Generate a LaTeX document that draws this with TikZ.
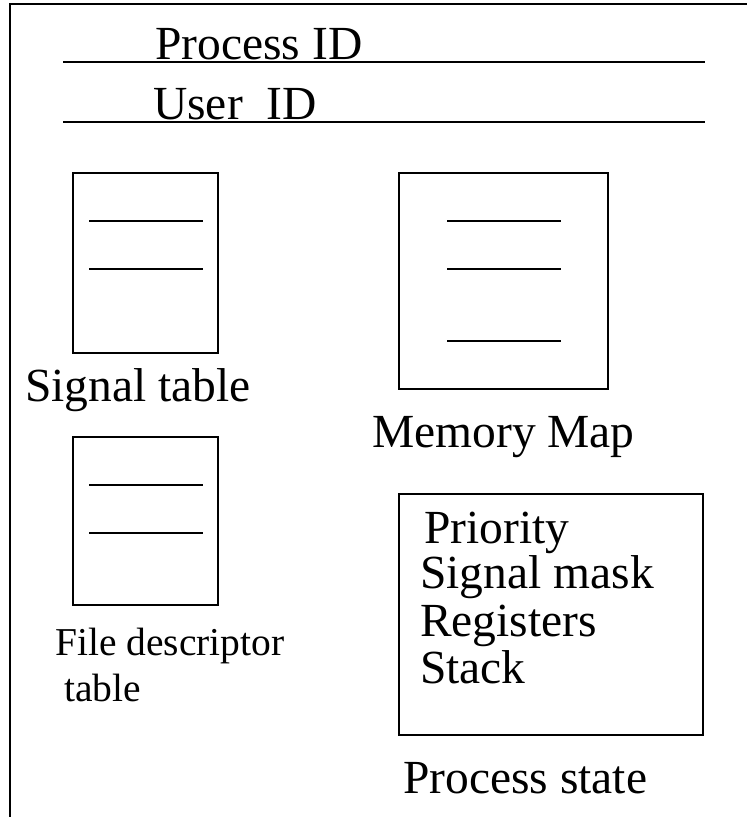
\documentclass[tikz,border=0pt]{standalone}
\usepackage{fontspec}
\setmainfont{Liberation Serif}
\begin{document}
\begin{tikzpicture}[x=1pt,y=-1pt,
  lbl/.style={anchor=base west,inner sep=0pt,font=\fontsize{47.5}{52}\selectfont},
  small/.style={anchor=base west,inner sep=0pt,font=\fontsize{39.5}{44}\selectfont},
  frame/.style={line width=1.6pt},
  boxline/.style={line width=1.3pt},
  rule/.style={line width=1.4pt}]
\useasboundingbox (0,0) rectangle (747,817);
% outer frame (left and top)
\draw[frame] (10,817) -- (10,4) -- (747,4);
% header
\node[lbl] (pid) at (155,59) {Process ID};
\node[lbl] (uid) at (153,119) {User\ \ ID};
\draw[rule] (63,62) -- (705,62);
\draw[rule] (63,122) -- (705,122);
% signal table
\draw[boxline] (73,173) rectangle (218,353);
\draw[rule] (89,221) -- (203,221);
\draw[rule] (89,269) -- (203,269);
\node[lbl] (sig) at (25,401) {Signal table};
% memory map
\draw[boxline] (399,173) rectangle (608,389);
\draw[rule] (447,221) -- (561,221);
\draw[rule] (447,269) -- (561,269);
\draw[rule] (447,341) -- (561,341);
\node[lbl] (mem) at (372,447) {Memory Map};
% file descriptor table
\draw[boxline] (73,437) rectangle (218,605);
\draw[rule] (89,485) -- (203,485);
\draw[rule] (89,533) -- (203,533);
\node[small] (fd1) at (55,655) {File descriptor};
\node[small] (fd2) at (64,701) {table};
% process state
\draw[boxline] (399,494) rectangle (703,735);
\node[lbl] (pr) at (424,543) {Priority};
\node[lbl] (sm) at (420,588) {Signal mask};
\node[lbl] (rg) at (420,636) {Registers};
\node[lbl] (st) at (420,683) {Stack};
\node[lbl] (ps) at (403,793) {Process state};
\end{tikzpicture}
\end{document}
